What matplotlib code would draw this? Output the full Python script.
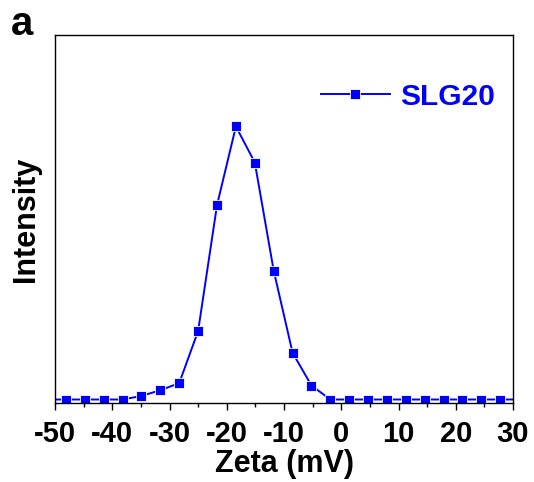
import matplotlib
matplotlib.use("Agg")
import matplotlib.pyplot as plt
from matplotlib.ticker import MultipleLocator

plt.rcParams["font.family"] = ["Liberation Sans", "DejaVu Sans"]
plt.rcParams["font.weight"] = "bold"
plt.rcParams["axes.unicode_minus"] = False

# zeta potential distribution (mV) and relative intensity
zeta = [-51.3, -48.0, -44.7, -41.4, -38.2, -34.9, -31.6, -28.3, -25.0,
        -21.7, -18.4, -15.1, -11.8, -8.5, -5.2, -1.9, 1.4, 4.7, 8.0,
        11.3, 14.6, 17.9, 21.1, 24.4, 27.7, 31.0]
intensity = [0, 0, 0, 0, 0, 1.3, 3.4, 6.0, 25.1,
             71.2, 100, 86.8, 47.2, 17.1, 5.1, 0, 0, 0, 0,
             0, 0, 0, 0, 0, 0, 0]
series_name = "SLG20"

fig = plt.figure(figsize=(5.34, 4.82), dpi=100)
ax = fig.add_axes([0.103, 0.1639, 0.8577, 0.7635])

ax.plot(zeta, intensity, color="#0000ff", linewidth=1.4,
        marker="s", markersize=6.5, markerfacecolor="#0000ff",
        markeredgecolor="white", markeredgewidth=0.6, label=series_name)

ax.set_xlim(-50, 30)
ax.set_ylim(-1.28, 133.5)
ax.xaxis.set_major_locator(MultipleLocator(10))
ax.xaxis.set_minor_locator(MultipleLocator(5))
ax.tick_params(axis="x", which="major", direction="out", length=5, width=1,
               labelsize=21, pad=7.5)
ax.tick_params(axis="x", which="minor", direction="out", length=3, width=1)
ax.tick_params(axis="y", left=False, labelleft=False)
for s in ax.spines.values():
    s.set_linewidth(1.0)

ax.set_xlabel("Zeta (mV)", fontsize=22, fontweight="bold")
ax.xaxis.set_label_coords(0.5, -0.125)
ax.set_ylabel("Intensity", fontsize=22, fontweight="bold")
ax.yaxis.set_label_coords(-0.03, 0.5)

ax.legend(loc="center right", bbox_to_anchor=(0.961, 0.832), frameon=False,
          prop={"size": 21.5, "weight": "bold"}, labelcolor="#0000ff",
          handlelength=2.34, handletextpad=0.33, borderpad=0, borderaxespad=0)

fig.text(11 / 534, 1 - 35 / 482, "a", fontsize=29, fontweight="bold",
         ha="left", va="baseline")

fig.savefig("out.png", dpi=100)
